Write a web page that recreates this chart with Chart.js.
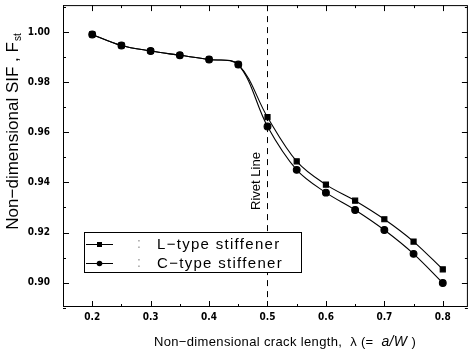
<!DOCTYPE html>
<html>
<head>
<meta charset="utf-8">
<script src="https://cdn.jsdelivr.net/npm/chart.js@4.4.1/dist/chart.umd.min.js"></script>
<style>
  html, body { margin: 0; padding: 0; background: #fff; }
  #wrap { width: 473px; height: 359px; position: relative; }
</style>
</head>
<body>
<div id="wrap"><canvas id="sif-chart"></canvas></div>
<script>
// values
const crackLength = [0.2, 0.25, 0.3, 0.35, 0.4, 0.45, 0.5, 0.55, 0.6, 0.65, 0.7, 0.75, 0.8];
const lTypeSif = [0.999, 0.9946, 0.9924, 0.9907, 0.989, 0.987, 0.966, 0.9484, 0.9391, 0.9327, 0.9253, 0.9164, 0.9053];
const cTypeSif = [0.999, 0.9946, 0.9924, 0.9907, 0.989, 0.987, 0.9623, 0.945, 0.9359, 0.929, 0.921, 0.9115, 0.8999];
const seriesLabels = ["L\u2212type stiffener", "C\u2212type stiffener"];
const xTickValues = [0.2, 0.3, 0.4, 0.5, 0.6, 0.7, 0.8];
const xTickLabels = ["0.2", "0.3", "0.4", "0.5", "0.6", "0.7", "0.8"];
const yTickValues = [0.90, 0.92, 0.94, 0.96, 0.98, 1.00];
const yTickLabels = ["0.90", "0.92", "0.94", "0.96", "0.98", "1.00"];
const rivetLine = 0.5;

const tickFamily = "'Liberation Sans Narrow', 'DejaVu Sans Condensed', sans-serif";
const textFamily = "'Liberation Sans', Arial, sans-serif";

function toPoints(ys) {
   return crackLength.map((x, i) => ({ x: x, y: ys[i] }));
}

function noScalePadding(scale) {
   scale.paddingTop = 0;
   scale.paddingBottom = 0;
   scale.paddingLeft = 0;
   scale.paddingRight = 0;
}

const framePlugin = {
   id: "frame",
   afterDatasetsDraw(chart) {
      const { ctx, chartArea: a, scales } = chart;
      const xs = scales.x;
      const ys = scales.y;
      ctx.save();
      ctx.strokeStyle = "#000";
      ctx.lineWidth = 1;

      // box
      ctx.strokeRect(a.left + 0.5, a.top + 0.5, a.right - a.left - 1, a.bottom - a.top - 1);

      // inward ticks
      ctx.beginPath();
      for (let v = 0.15; v <= 0.85; v += 0.05) {
         const px = Math.round(xs.getPixelForValue(v)) + 0.5;
         const major = xTickValues.some((t) => Math.abs(t - v) < 1e-6);
         const len = major ? 6 : 3;
         ctx.moveTo(px, a.bottom); ctx.lineTo(px, a.bottom - len);
         ctx.moveTo(px, a.top); ctx.lineTo(px, a.top + len);
      }
      for (let v = 0.89; v <= 1.011; v += 0.01) {
         const py = Math.round(ys.getPixelForValue(v)) + 0.5;
         const major = yTickValues.some((t) => Math.abs(t - v) < 1e-6);
         const len = major ? 6 : 3;
         ctx.moveTo(a.left, py); ctx.lineTo(a.left + len, py);
         ctx.moveTo(a.right, py); ctx.lineTo(a.right - len, py);
      }
      ctx.stroke();

      // rivet line
      const rx = Math.round(xs.getPixelForValue(rivetLine)) + 0.5;
      ctx.setLineDash([6, 5]);
      ctx.beginPath();
      ctx.moveTo(rx, a.top);
      ctx.lineTo(rx, a.bottom);
      ctx.stroke();
      ctx.setLineDash([]);

      ctx.fillStyle = "#000";
      ctx.save();
      ctx.translate(rx - 11, 181);
      ctx.rotate(-Math.PI / 2);
      ctx.font = "13px " + textFamily;
      ctx.textAlign = "center";
      ctx.textBaseline = "middle";
      ctx.fillText("Rivet Line", 0, 0);
      ctx.restore();

      // legend
      const lx = 84, ly = 232, lw = 217, lh = 40;
      ctx.fillStyle = "#fff";
      ctx.fillRect(lx, ly, lw, lh);
      ctx.strokeRect(lx + 0.5, ly + 0.5, lw, lh);
      ctx.fillStyle = "#000";
      ctx.textBaseline = "middle";
      ctx.textAlign = "left";
      const rows = [ly + 12, ly + 31];
      rows.forEach((y, i) => {
         ctx.beginPath();
         ctx.moveTo(86, y + 0.5);
         ctx.lineTo(113, y + 0.5);
         ctx.stroke();
         if (i === 0) {
            ctx.fillRect(97, y - 2, 5, 5);
         } else {
            ctx.beginPath();
            ctx.arc(99.5, y + 0.5, 2.8, 0, Math.PI * 2);
            ctx.fill();
         }
         ctx.font = "14px " + textFamily;
         ctx.fillStyle = "#999";
         ctx.fillText(":", 137, y);
         ctx.fillStyle = "#000";
         ctx.font = "15px " + textFamily;
         ctx.letterSpacing = "1.3px";
         ctx.fillText(seriesLabels[i], 157, y + 1);
         ctx.letterSpacing = "0px";
      });

      // y axis title
      ctx.save();
      ctx.translate(13, 132);
      ctx.rotate(-Math.PI / 2);
      const main = "Non\u2212dimensional SIF , F";
      ctx.font = "17px " + textFamily;
      const mw = ctx.measureText(main).width;
      ctx.font = "10px " + textFamily;
      const sw = ctx.measureText("st").width;
      const start = -(mw + sw) / 2;
      ctx.textAlign = "left";
      ctx.textBaseline = "middle";
      ctx.font = "17px " + textFamily;
      ctx.fillText(main, start, 0);
      ctx.font = "10px " + textFamily;
      ctx.fillText("st", start + mw + 1, 5);
      ctx.restore();

      // x axis title
      const partA = "Non\u2212dimensional crack length,  \u03bb (=  ";
      const partB = "a/W";
      const partC = " )";
      const fa = "13px " + textFamily;
      const fb = "italic 14px " + textFamily;
      ctx.letterSpacing = "0.35px";
      ctx.font = fa;
      const wa = ctx.measureText(partA).width;
      const wc = ctx.measureText(partC).width;
      ctx.font = fb;
      const wb = ctx.measureText(partB).width;
      let tx = 285 - (wa + wb + wc) / 2;
      const ty = 342;
      ctx.textAlign = "left";
      ctx.font = fa; ctx.fillText(partA, tx, ty); tx += wa;
      ctx.font = fb; ctx.fillText(partB, tx, ty); tx += wb;
      ctx.font = fa; ctx.fillText(partC, tx, ty);
      ctx.letterSpacing = "0px";

      ctx.restore();
   },
};

new Chart(document.getElementById("sif-chart"), {
   type: "line",
   data: {
      datasets: [
         {
            label: seriesLabels[0],
            data: toPoints(lTypeSif),
            borderColor: "#000",
            backgroundColor: "#000",
            borderWidth: 1.1,
            pointStyle: "rect",
            pointRadius: 3.6,
            tension: 0.35,
         },
         {
            label: seriesLabels[1],
            data: toPoints(cTypeSif),
            borderColor: "#000",
            backgroundColor: "#000",
            borderWidth: 1.1,
            pointStyle: "circle",
            pointRadius: 3.4,
            tension: 0.35,
         },
      ],
   },
   options: {
      responsive: true,
      maintainAspectRatio: false,
      animation: false,
      layout: { padding: { top: 5, right: 5, left: 0, bottom: 0 } },
      plugins: { legend: { display: false }, tooltip: { enabled: false } },
      scales: {
         x: {
            type: "linear",
            min: 0.15,
            max: 0.843,
            grid: { display: false, drawTicks: false },
            border: { display: false },
            afterBuildTicks: (scale) => {
               scale.ticks = xTickValues.map((v) => ({ value: v }));
            },
            afterFit: (scale) => {
               scale.height = 52;
               noScalePadding(scale);
            },
            ticks: {
               padding: 4,
               color: "#000",
               font: { family: tickFamily, size: 10, weight: "bold" },
               maxRotation: 0,
               callback: (v) => {
                  const i = xTickValues.findIndex((t) => Math.abs(t - v) < 1e-6);
                  return i >= 0 ? xTickLabels[i] : "";
               },
            },
         },
         y: {
            min: 0.8903,
            max: 1.0107,
            grid: { display: false, drawTicks: false },
            border: { display: false },
            afterBuildTicks: (scale) => {
               scale.ticks = yTickValues.map((v) => ({ value: v }));
            },
            afterFit: (scale) => {
               scale.width = 63;
               noScalePadding(scale);
            },
            ticks: {
               padding: 13,
               color: "#000",
               font: { family: tickFamily, size: 10, weight: "bold" },
               callback: (v) => {
                  const i = yTickValues.findIndex((t) => Math.abs(t - v) < 1e-6);
                  return i >= 0 ? yTickLabels[i] : "";
               },
            },
         },
      },
   },
   plugins: [framePlugin],
});
</script>
</body>
</html>
